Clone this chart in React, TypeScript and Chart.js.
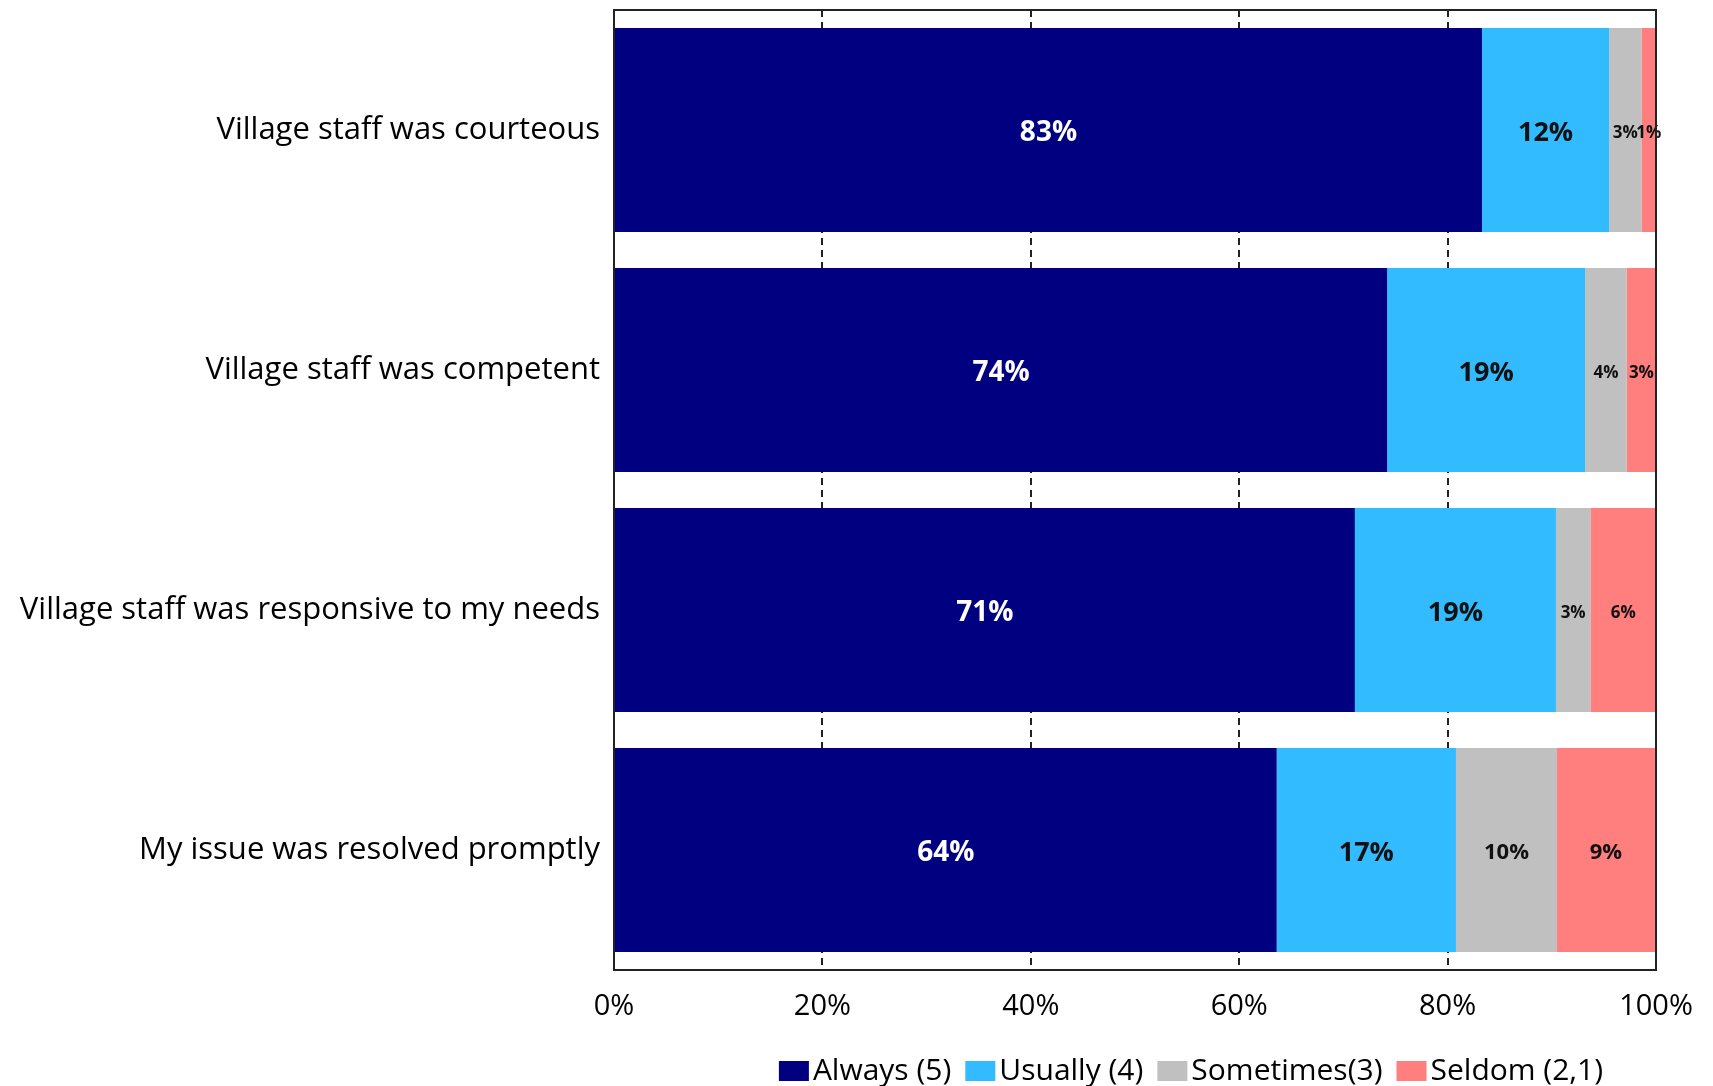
import { useEffect, useRef } from 'react';
import { Chart, registerables } from 'chart.js';

Chart.register(...registerables);

const categories = [
  'Village staff was courteous',
  'Village staff was competent',
  'Village staff was responsive to my needs',
  'My issue was resolved promptly',
];
const seriesNames = ['Always (5)', 'Usually (4)', 'Sometimes(3)', 'Seldom (2,1)'];
const always = [83.3, 74.2, 71.1, 63.6];
const usually = [12.2, 19.0, 19.3, 17.2];
const sometimes = [3.1, 4.0, 3.3, 9.7];
const seldom = [1.4, 2.8, 6.3, 9.4];
const xTicks = [0, 20, 40, 60, 80, 100];
const colors = ['#000080', '#33BBFF', '#C0C0C0', '#FF7F7F'];

const FONT = '"Open Sans", Lato, sans-serif';

const labelsPlugin = {
  id: 'segLabels',
  afterDatasetsDraw(chart: any) {
    const ctx = chart.ctx;
    ctx.save();
    ctx.textAlign = 'center';
    ctx.textBaseline = 'middle';
    chart.data.datasets.forEach((ds: any, di: number) => {
      const meta = chart.getDatasetMeta(di);
      meta.data.forEach((bar: any, i: number) => {
        const v = ds.data[i];
        const p = bar.getProps(['x', 'y', 'base'], true);
        const cx = (p.x + p.base) / 2;
        let size = di === 0 ? 28 : 27;
        if (di >= 2) size = i === 3 ? 22 : 17;
        ctx.font = `bold ${size}px ${FONT}`;
        ctx.fillStyle = di === 0 ? '#ffffff' : '#111111';
        ctx.fillText(Math.round(v) + '%', cx, p.y + 3);
      });
    });
    ctx.restore();
  },
};

const framePlugin = {
  id: 'frameLegend',
  afterDraw(chart: any) {
    const ctx = chart.ctx;
    const a = chart.chartArea;
    ctx.save();
    ctx.strokeStyle = '#222222';
    ctx.lineWidth = 2;
    ctx.setLineDash([]);
    ctx.strokeRect(a.left, a.top, a.right - a.left, a.bottom - a.top);

    // legend
    ctx.font = `30px ${FONT}`;
    ctx.textBaseline = 'middle';
    ctx.textAlign = 'left';
    const boxW = 30, boxH = 20, gapText = 4, gapItem = 14;
    const widths = seriesNames.map((n) => ctx.measureText(n).width);
    const total = widths.reduce((s, w) => s + boxW + gapText + w, 0) + gapItem * (seriesNames.length - 1);
    let x = 1191 - total / 2;
    const y = 1071;
    seriesNames.forEach((n, i) => {
      ctx.fillStyle = colors[i];
      ctx.fillRect(x, y - boxH / 2, boxW, boxH);
      ctx.fillStyle = '#000000';
      ctx.fillText(n, x + boxW + gapText, y);
      x += boxW + gapText + widths[i] + gapItem;
    });
    ctx.restore();
  },
};

export default function App() {
  const ref = useRef<HTMLCanvasElement | null>(null);
  useEffect(() => {
    if (!ref.current) return;
    const series = [always, usually, sometimes, seldom];
    const chart = new Chart(ref.current, {
      type: 'bar',
      data: {
        labels: categories,
        datasets: series.map((d, i) => ({
          label: seriesNames[i],
          data: d,
          backgroundColor: colors[i],
          borderWidth: 0,
          barPercentage: 0.85,
          categoryPercentage: 1.0,
        })),
      },
      options: {
        indexAxis: 'y',
        responsive: false,
        animation: false,
        layout: { padding: { left: 0, top: 10, right: 57, bottom: 56 } },
        plugins: {
          legend: { display: false },
          tooltip: { enabled: false },
          title: { display: false },
        },
        scales: {
          x: {
            stacked: true,
            min: 0,
            max: 100,
            afterBuildTicks: (s: any) => {
              s.ticks = xTicks.map((v) => ({ value: v }));
            },
            afterFit: (s: any) => {
              s.height = 60;
              s.paddingLeft = 0;
              s.paddingRight = 0;
            },
            grid: {
              color: '#222222',
              lineWidth: 2,
              drawTicks: false,
            },
            border: { display: true, color: '#222222', width: 2, dash: [7, 5] },
            ticks: {
              padding: 19,
              color: '#000000',
              font: { family: FONT, size: 29 },
              callback: (v: any) => v + '%',
            },
          },
          y: {
            stacked: true,
            afterFit: (s: any) => {
              s.width = 614;
              s.paddingTop = 0;
              s.paddingBottom = 0;
            },
            grid: { display: false, drawTicks: false },
            border: { display: true, color: '#222222', width: 2 },
            ticks: {
              padding: 14,
              color: '#000000',
              font: { family: FONT, size: 31 },
            },
          },
        },
      },
      plugins: [labelsPlugin, framePlugin],
    });
    return () => chart.destroy();
  }, []);

  return (
    <div style={{ position: 'fixed', left: 0, top: 0, width: 1713, height: 1086, background: '#ffffff' }}>
      <canvas ref={ref} width={1713} height={1086} style={{ display: 'block' }} />
    </div>
  );
}
